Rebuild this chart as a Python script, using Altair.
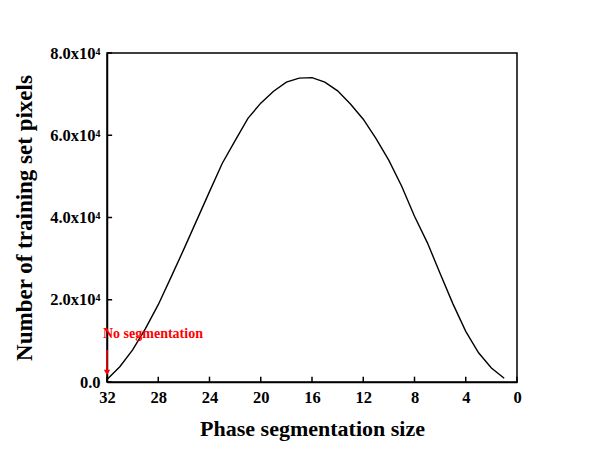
import altair as alt
import pandas as pd

# ---- data ----
sizes = list(range(32, 0, -1))
pixels = [600, 3700, 7800, 13000, 18800, 25500, 32300, 39300, 46300, 53200,
          58700, 64100, 67800, 70700, 72900, 73900, 74000, 72900, 70800, 67600,
          63900, 59200, 53900, 47600, 40300, 33900, 26400, 19000, 12300, 7100,
          3400, 900]

x_ticks = [32, 28, 24, 20, 16, 12, 8, 4, 0]
y_ticks = [0, 20000, 40000, 60000, 80000]

note_text = ["No segmentation"]
note_x = [32]
note_y = [11700]
arrow_x = [32]
arrow_top = [7800]
arrow_bottom = [2000]
arrow_head = [2300]

FONT = "Liberation Serif"
W, H = 410, 329

df = pd.DataFrame({"size": sizes, "pixels": pixels})
xs = alt.Scale(domain=[32, 0], nice=False, zero=False)
ys = alt.Scale(domain=[0, 80000], nice=False)

x_axis = alt.Axis(values=x_ticks, title="Phase segmentation size", ticks=False,
                  tickSize=0, labelPadding=7, titlePadding=13, grid=False,
                  labelFont=FONT, labelFontSize=16.5, labelFontWeight="bold",
                  labelColor="black", titleFont=FONT, titleFontSize=22,
                  titleFontWeight="bold", titleColor="black",
                  domainColor="black", domainWidth=1.5, labelFlush=False)
y_axis = alt.Axis(values=y_ticks, title="Number of training set pixels", ticks=False,
                  tickSize=0, labelPadding=7, titlePadding=13, grid=False,
                  labelExpr="datum.value == 0 ? '0.0' : format(datum.value / 10000, '.1f') + 'x10\u2074'",
                  labelFont=FONT, labelFontSize=16.5, labelFontWeight="bold",
                  labelColor="black", titleFont=FONT, titleFontSize=23,
                  titleFontWeight="bold", titleColor="black",
                  domainColor="black", domainWidth=1.5, labelFlush=False)

line = alt.Chart(df).mark_line(color="black", strokeWidth=1.4).encode(
    x=alt.X("size:Q", scale=xs, axis=x_axis),
    y=alt.Y("pixels:Q", scale=ys, axis=y_axis),
)

# inward tick marks
xt = pd.DataFrame({"v": x_ticks, "y0": [0] * len(x_ticks), "y1": [1300] * len(x_ticks)})
xtick = alt.Chart(xt).mark_rule(color="black", strokeWidth=1.5).encode(
    x=alt.X("v:Q", scale=xs), y=alt.Y("y0:Q", scale=ys), y2="y1:Q")
yt = pd.DataFrame({"v": y_ticks, "x0": [32] * len(y_ticks), "x1": [31.6] * len(y_ticks)})
ytick = alt.Chart(yt).mark_rule(color="black", strokeWidth=1.5).encode(
    y=alt.Y("v:Q", scale=ys), x=alt.X("x0:Q", scale=xs), x2="x1:Q")

# annotation
nd = pd.DataFrame({"t": note_text, "x": note_x, "y": note_y})
note = alt.Chart(nd).mark_text(color="#ff0000", font=FONT, fontSize=14,
                               fontWeight="bold", align="left", baseline="middle",
                               dx=-4).encode(
    x=alt.X("x:Q", scale=xs), y=alt.Y("y:Q", scale=ys), text="t:N")
ad = pd.DataFrame({"x": arrow_x, "y0": arrow_top, "y1": arrow_bottom, "yh": arrow_head})
arrow = alt.Chart(ad).mark_rule(color="#ff0000", strokeWidth=1.5).encode(
    x=alt.X("x:Q", scale=xs), y=alt.Y("y0:Q", scale=ys), y2="y1:Q")
head = alt.Chart(ad).mark_point(shape="triangle-down", filled=True, color="#ff0000",
                                size=40, opacity=1).encode(
    x=alt.X("x:Q", scale=xs), y=alt.Y("yh:Q", scale=ys))

chart = alt.layer(line, xtick, ytick, arrow, head, note).properties(
    width=W, height=H,
    autosize=alt.AutoSizeParams(type="none"),
    padding={"left": 99, "top": 45, "right": 70, "bottom": 60},
    background="white",
).configure_view(stroke="black", strokeWidth=1.5)

chart.save("out.html", embed_options={"renderer": "svg", "actions": False})
